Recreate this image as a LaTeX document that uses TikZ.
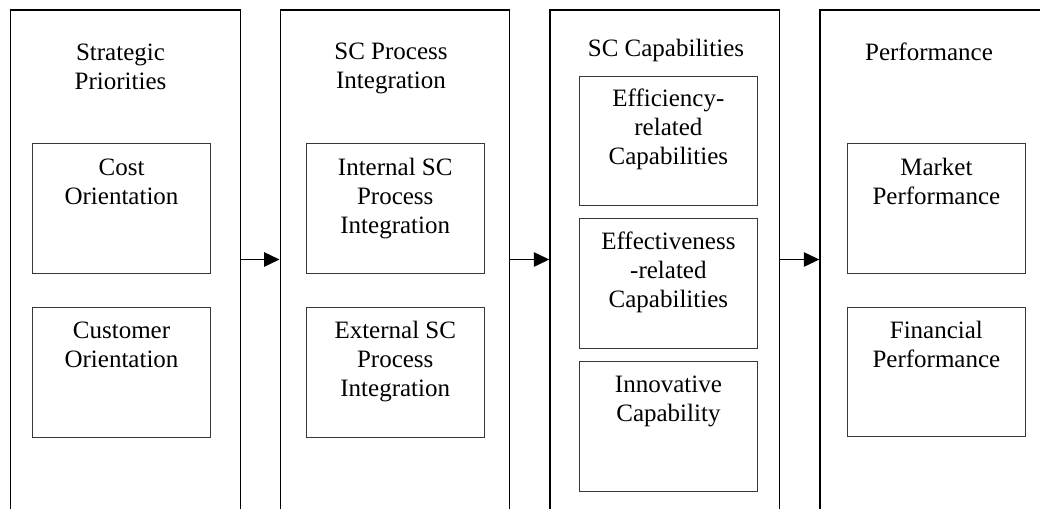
\documentclass[tikz,border=0pt]{standalone}
\usepackage{fontspec}
\setmainfont{Liberation Serif}
\usetikzlibrary{arrows.meta}
\tikzset{
  panel/.style={draw=black, line width=1.4pt, rectangle, anchor=north west, inner sep=0pt, minimum width=229.5pt, minimum height=600pt},
  item/.style={draw=black!78, line width=1.1pt, rectangle, anchor=north west, inner sep=0pt, minimum width=178pt, minimum height=130pt},
  txt/.style={anchor=base, inner sep=0pt, text=black, font=\fontsize{25}{29}\selectfont},
  flow/.style={line width=1.2pt, -{Triangle[length=15.5pt,width=14.5pt]}},
}
\newcommand{\ml}[1]{\begin{tabular}[t]{@{}c@{}}#1\end{tabular}}
\begin{document}
\begin{tikzpicture}[x=1pt,y=-1pt]
\useasboundingbox (0,0) rectangle (1040,508);
\clip (0,0) rectangle (1040,508);
% panels
\node[panel] (p1) at (10,9.5) {};
\node[panel] (p2) at (279.5,9.5) {};
\node[panel] (p3) at (549.3,9.5) {};
\node[panel] (p4) at (819.3,9.5) {};
% titles
\node[txt] (t1) at (120.5,61) {\ml{Strategic\\Priorities}};
\node[txt] (t2) at (391,60) {\ml{SC Process\\Integration}};
\node[txt] (t3) at (666,57) {SC Capabilities};
\node[txt] (t4) at (929,61) {Performance};
% panel 1 items
\node[item] (a1) at (32,143) {};
\node[item] (a2) at (32,306.5) {};
\node[txt] at ([yshift=-32pt]a1.north) {\ml{Cost\\Orientation}};
\node[txt] at ([yshift=-32pt]a2.north) {\ml{Customer\\Orientation}};
% panel 2 items
\node[item] (b1) at (305.7,143) {};
\node[item] (b2) at (305.7,306.5) {};
\node[txt] at ([yshift=-32pt]b1.north) {\ml{Internal SC\\Process\\Integration}};
\node[txt] at ([yshift=-32pt]b2.north) {\ml{External SC\\Process\\Integration}};
% panel 3 items
\node[item, minimum width=177.7pt, minimum height=129.3pt] (c1) at (579,75.7) {};
\node[item, minimum width=177.7pt, minimum height=129.7pt] (c2) at (579,218) {};
\node[item, minimum width=177.7pt, minimum height=129.4pt] (c3) at (579,361.3) {};
\node[txt] at ([yshift=-31pt]c1.north) {\ml{Efficiency-\\related\\Capabilities}};
\node[txt] at ([yshift=-31pt]c2.north) {\ml{Effectiveness\\-related\\Capabilities}};
\node[txt] at ([yshift=-31pt]c3.north) {\ml{Innovative\\Capability}};
% panel 4 items
\node[item, minimum width=178.3pt] (d1) at (846.7,143) {};
\node[item, minimum width=178.3pt, minimum height=129pt] (d2) at (846.7,306.7) {};
\node[txt] at ([yshift=-32pt]d1.north) {\ml{Market\\Performance}};
\node[txt] at ([yshift=-32pt]d2.north) {\ml{Financial\\Performance}};
% connectors
\coordinate (ay) at (0,259.5);
\draw[flow] (p1.north east |- ay) -- (p2.north west |- ay);
\draw[flow] (p2.north east |- ay) -- (p3.north west |- ay);
\draw[flow] (p3.north east |- ay) -- (p4.north west |- ay);
\end{tikzpicture}
\end{document}
